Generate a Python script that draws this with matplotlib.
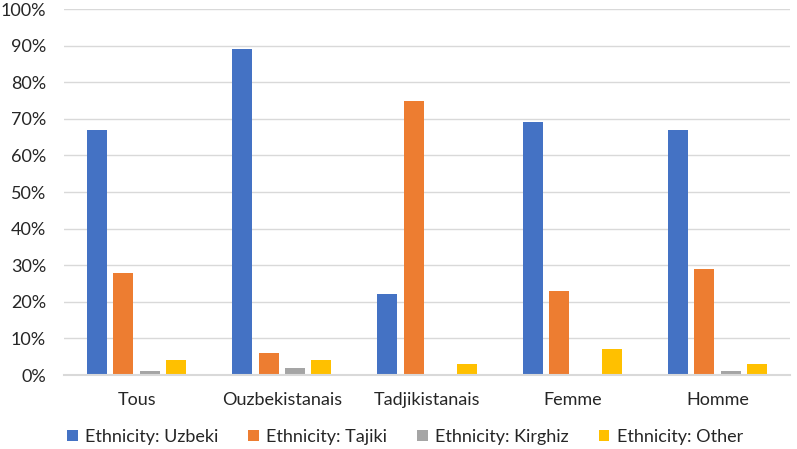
import numpy as np
import matplotlib.pyplot as plt

categories = ["Tous", "Ouzbekistanais", "Tadjikistanais", "Femme", "Homme"]
series_names = ["Ethnicity: Uzbeki", "Ethnicity: Tajiki", "Ethnicity: Kirghiz", "Ethnicity: Other"]
uzbeki = [67, 89, 22, 69, 67]
tajiki = [28, 6, 75, 23, 29]
kirghiz = [1, 2, 0, 0, 1]
other = [4, 4, 3, 7, 3]
colors = ["#4472C4", "#ED7D31", "#A5A5A5", "#FFC000"]

plt.rcParams['font.family'] = ['Lato', 'DejaVu Sans']

fig = plt.figure(figsize=(7.97, 4.49), dpi=100)
ax = fig.add_axes([64/797, 1-375/449, 726/797, 366/449])

x = np.arange(len(categories))
width = 0.138
step = 0.182
for i, (vals, name) in enumerate(zip([uzbeki, tajiki, kirghiz, other], series_names)):
    ax.bar(x + (i - 1.5) * step, vals, width, color=colors[i], label=name, zorder=3)

ax.set_xlim(-0.5, len(categories) - 0.5)
ax.set_ylim(0, 100)
ax.set_yticks(range(0, 101, 10))
ax.set_yticklabels([f"{v}%" for v in range(0, 101, 10)])
ax.set_xticks(x)
ax.set_xticklabels(categories)
ax.grid(axis='y', color='#D9D9D9', linewidth=1, zorder=0)
for s in ['top', 'right', 'left']:
    ax.spines[s].set_visible(False)
ax.spines['bottom'].set_color('#D9D9D9')
ax.spines['bottom'].set_linewidth(1.5)
ax.spines['bottom'].set_zorder(4)
ax.tick_params(axis='both', length=0, labelsize=13, colors='#262626')
ax.tick_params(axis='y', pad=13)
ax.tick_params(axis='x', pad=12)

fig.legend(loc='center', bbox_to_anchor=(405/797, 1-437/449), ncol=4, frameon=False,
           fontsize=13, handlelength=0.6, handleheight=0.6, handletextpad=0.4,
           columnspacing=1.65, labelcolor='#262626')

fig.savefig("out.png", dpi=100)
